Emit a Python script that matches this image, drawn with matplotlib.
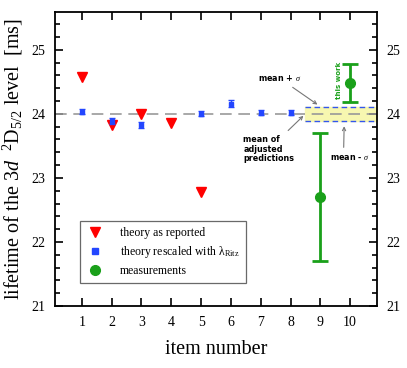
import numpy as np
import matplotlib
matplotlib.use('Agg')
import matplotlib.pyplot as plt
from matplotlib.ticker import MultipleLocator
from matplotlib.lines import Line2D

plt.rcParams['font.family'] = 'Liberation Serif'
plt.rcParams['mathtext.fontset'] = 'custom'
plt.rcParams['mathtext.rm'] = 'Liberation Serif'
plt.rcParams['mathtext.it'] = 'Liberation Serif:italic'

# theory as reported
rep_x = [1, 2, 3, 4, 5]
rep_y = [24.57, 23.83, 23.99, 23.86, 22.78]

# theory rescaled with lambda_Ritz
res_x = [1, 2, 3, 5, 6, 7, 8]
res_y = [24.03, 23.89, 23.83, 24.00, 24.16, 24.02, 24.02]
res_err = [0.04, 0.05, 0.05, 0.04, 0.05, 0.04, 0.04]

# measurements
meas_x = [9, 10]
meas_y = [22.70, 24.48]
meas_err = [1.00, 0.30]

MEAN = 24.0
SIGMA = 0.11

C_RED = '#FF0000'
C_BLUE = '#2346FF'
C_GREEN = '#1AA01A'

fig = plt.figure(figsize=(4.07, 3.68), dpi=100)
ax = fig.add_axes([55/407, 1 - 306/368, 322/407, 294/368])

ax.set_xlim(0.1, 10.9)
ax.set_ylim(21, 25.59)

# band of mean +/- sigma
ax.fill_between([8.5, 10.9], MEAN - SIGMA, MEAN + SIGMA, color='#F7F7B0', zorder=1)
ax.plot([8.5, 10.9], [MEAN + SIGMA] * 2, ls=(0, (4, 2.5)), color='#3355EE', lw=1, zorder=2)
ax.plot([8.5, 10.9], [MEAN - SIGMA] * 2, ls=(0, (4, 2.5)), color='#3355EE', lw=1, zorder=2)
ax.axhline(MEAN, ls=(0, (7, 4)), color='#999999', lw=1.2, zorder=2)

ax.plot(rep_x, rep_y, 'v', color=C_RED, ms=7, zorder=4)
ax.errorbar(res_x, res_y, yerr=res_err, fmt='s', color=C_BLUE, ms=3.5, capsize=2.5,
            elinewidth=1, capthick=1, zorder=5)
ax.errorbar(meas_x, meas_y, yerr=meas_err, fmt='o', color=C_GREEN, ms=7, capsize=6,
            elinewidth=2, capthick=2, zorder=5)

# annotations
akw = dict(fontsize=5.8, fontweight='bold', family='DejaVu Sans')
arw = dict(arrowstyle='->', color='#777777', lw=0.8)
ax.annotate(r'mean + $\sigma$', xy=(8.98, 24.12), xytext=(7.62, 24.56), ha='center', va='center',
            arrowprops=arw, **akw)
ax.annotate('mean of\nadjusted\npredictions', xy=(8.5, 24.0), xytext=(6.42, 23.45), ha='left',
            va='center', linespacing=1.05, arrowprops=arw, **akw)
ax.annotate(r'mean - $\sigma$', xy=(9.8, 23.85), xytext=(9.98, 23.32), ha='center', va='center',
            arrowprops=dict(arrowstyle='->', color='#777777', lw=0.8, relpos=(0.35, 1)), **akw)
ax.text(9.62, 24.53, 'this work', rotation=90, ha='center', va='center', color=C_GREEN,
        fontsize=5, fontweight='bold', family='DejaVu Sans')

ax.set_xticks(range(1, 11))
ax.yaxis.set_major_locator(MultipleLocator(1))
ax.yaxis.set_minor_locator(MultipleLocator(0.2))
ax.tick_params(axis='both', which='both', direction='in', top=True, right=True,
               labelright=True, labelsize=10, width=1.2)
ax.tick_params(axis='both', which='major', length=6, pad=7)
ax.tick_params(axis='y', which='minor', length=3.5)
for s in ax.spines.values():
    s.set_linewidth(1.3)

ax.set_xlabel('item number', fontsize=14.5, labelpad=8)
ax.set_ylabel(r'lifetime of the $\mathit{3d}$  $^{2}\mathrm{D}_{5/2}$ level  [ms]', fontsize=14.5)
ax.yaxis.set_label_coords(-30/322, 0.5)

handles = [
    Line2D([], [], ls='none', marker='v', color=C_RED, ms=7),
    Line2D([], [], ls='none', marker='s', color=C_BLUE, ms=4),
    Line2D([], [], ls='none', marker='o', color=C_GREEN, ms=7),
]
labels = ['theory as reported', r'theory rescaled with $\mathrm{\lambda_{Ritz}}$', 'measurements']
leg = ax.legend(handles, labels, loc='lower left', bbox_to_anchor=(0.078, 0.077), fontsize=8.5,
                frameon=True, fancybox=False, edgecolor='#444444', handletextpad=1.3,
                borderpad=0.5, labelspacing=0.45, handlelength=1.6, borderaxespad=0)
leg.get_frame().set_linewidth(0.9)

fig.savefig('out.png', dpi=100)
